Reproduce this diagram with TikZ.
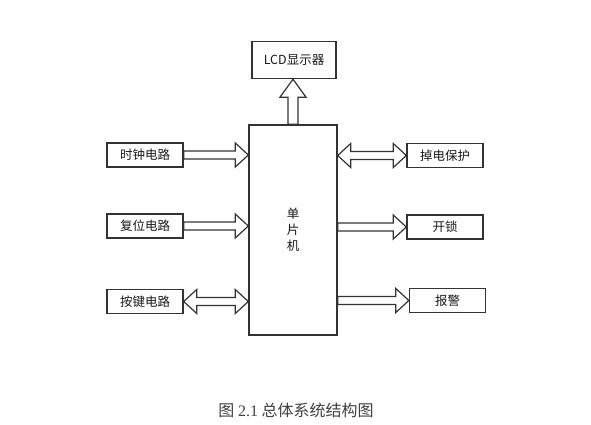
\documentclass[tikz,border=0pt]{standalone}
\usepackage{fontspec}
\setmainfont{Liberation Serif}
\newfontfamily\cjk{Noto Sans CJK SC}
\usetikzlibrary{calc}
\newcommand\arrR[2]{\path[harrow] let \p1=(#1), \p2=(#2) in
  (\x1,\y1+4pt) -- (\x2-13pt,\y1+4pt) -- (\x2-13pt,\y1+12pt) -- (\x2,\y1) --
  (\x2-13pt,\y1-12pt) -- (\x2-13pt,\y1-4pt) -- (\x1,\y1-4pt) -- cycle;}
\newcommand\arrLR[2]{\path[harrow] let \p1=(#1), \p2=(#2) in
  (\x1,\y1) -- (\x1+13pt,\y1+12pt) -- (\x1+13pt,\y1+4pt) -- (\x2-13pt,\y1+4pt) --
  (\x2-13pt,\y1+12pt) -- (\x2,\y1) -- (\x2-13pt,\y1-12pt) -- (\x2-13pt,\y1-4pt) --
  (\x1+13pt,\y1-4pt) -- (\x1+13pt,\y1-12pt) -- cycle;}
\newcommand\arrU[2]{\path[harrow] let \p1=(#1), \p2=(#2) in
  (\x1-5pt,\y1) -- (\x1-5pt,\y2-18pt) -- (\x1-13pt,\y2-18pt) -- (\x1,\y2) --
  (\x1+13pt,\y2-18pt) -- (\x1+5pt,\y2-18pt) -- (\x1+5pt,\y1) -- cycle;}
\begin{document}
\begin{tikzpicture}[x=1pt,y=-1pt,
  box/.style={draw=black!80, line width=1.4pt, minimum width=76pt, minimum height=24pt,
    font=\cjk\fontsize{12.5}{16}\selectfont, text=black!90, inner sep=0pt},
  harrow/.style={draw=black!80, line width=1.2pt, fill=white, line join=miter}]
\useasboundingbox[fill=white] (0,0) rectangle (591,425);
% central unit and peripherals
\node[box, minimum width=84pt, minimum height=37pt] (lcd) at (294,60) {LCD显示器};
\node[box, minimum width=88pt, minimum height=210pt, align=center] (mcu) at (293,230) {单\\片\\机};
\node[box] (clk) at (145,155) {时钟电路};
\node[box] (rst) at (145,226) {复位电路};
\node[box] (key) at (145,301.5) {按键电路};
\node[box] (pwr) at (445,155.5) {掉电保护};
\node[box] (lock) at (445,227) {开锁};
\node[box] (alarm) at (447.5,300.5) {报警};
% connectors
\arrU{mcu.north}{lcd.south}
\arrR{clk.east}{clk.east -| mcu.west}
\arrR{rst.east}{rst.east -| mcu.west}
\arrLR{key.east}{key.east -| mcu.west}
\arrLR{pwr.west -| mcu.east}{pwr.west}
\arrR{lock.west -| mcu.east}{lock.west}
\arrR{alarm.west -| mcu.east}{alarm.west}
% caption
\node[font=\cjk\fontsize{16}{18}\selectfont, text=black!75] (cap) at (296,410)
  {图 {\rmfamily 2.1} 总体系统结构图};
\end{tikzpicture}
\end{document}
